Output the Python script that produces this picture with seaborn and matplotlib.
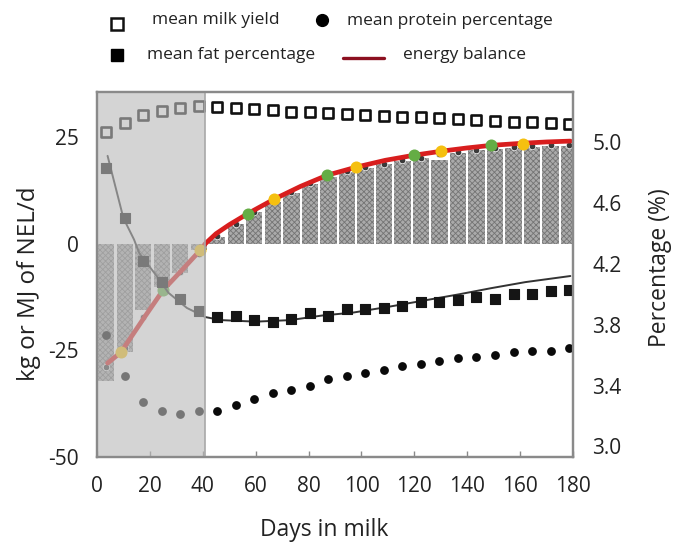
import matplotlib
matplotlib.use("Agg")
import matplotlib.pyplot as plt
from matplotlib.lines import Line2D
import pandas as pd
import seaborn as sns

# ---------------- data ----------------
week_days = [3.5, 10.5, 17.5, 24.5, 31.5, 38.5, 45.5, 52.5, 59.5, 66.5, 73.5, 80.5, 87.5,
             94.5, 101.5, 108.5, 115.5, 122.5, 129.5, 136.5, 143.5, 150.5, 157.5, 164.5,
             171.5, 178.5]
milk_yield = [26.1, 28.2, 30.1, 31.0, 31.7, 32.2, 31.9, 31.7, 31.5, 31.2, 30.8, 30.8, 30.5,
              30.3, 30.1, 29.8, 29.6, 29.6, 29.4, 29.1, 28.9, 28.7, 28.5, 28.5, 28.2, 28.0]
fat_pct = [4.83, 4.50, 4.22, 4.08, 3.97, 3.89, 3.85, 3.86, 3.83, 3.82, 3.84, 3.88, 3.86,
           3.90, 3.90, 3.91, 3.92, 3.95, 3.95, 3.96, 3.98, 3.97, 4.00, 4.00, 4.02, 4.03]
protein_pct = [3.73, 3.46, 3.29, 3.23, 3.21, 3.23, 3.23, 3.27, 3.31, 3.35, 3.37, 3.40, 3.44,
               3.46, 3.48, 3.50, 3.53, 3.54, 3.56, 3.58, 3.59, 3.60, 3.62, 3.63, 3.63, 3.65]
eb_weekly_bar = [-32.2, -25.4, -15.6, -10.2, -7.0, -1.6, 1.6, 4.5, 7.4, 9.8, 11.9, 14.0, 15.5,
                 16.8, 17.8, 18.7, 19.4, 20.0, 19.5, 21.3, 21.8, 22.2, 22.4, 22.6, 22.8, 22.9]
eb_weekly_dot = [-29.0, -24.4, -17.2, -11.3, -6.6, -2.5, 1.8, 4.6, 7.5, 10.0, 12.1, 14.1, 15.6,
                 16.9, 17.9, 18.7, 19.5, 20.1, 20.9, 21.5, 22.0, 22.4, 22.6, 22.8, 23.0, 23.0]

eb_curve_days = [4, 9, 18, 25, 32, 39, 41, 45, 50, 57, 67, 77, 87, 98, 109, 120, 131, 140,
                 149, 161, 170, 179]
eb_curve = [-28.0, -25.5, -17.2, -10.9, -6.3, -1.6, 0.0, 2.3, 4.4, 7.0, 10.4, 13.4, 16.0,
            17.9, 19.5, 20.7, 21.7, 22.4, 23.0, 23.5, 23.8, 24.0]

fat_curve_days = [4, 10, 14, 16, 23, 27, 34, 41, 47, 60, 73, 85, 97, 111, 124, 137, 149, 162, 179]
fat_curve = [4.91, 4.50, 4.36, 4.27, 4.11, 4.01, 3.91, 3.85, 3.83, 3.82, 3.83, 3.86, 3.88,
             3.92, 3.96, 4.00, 4.04, 4.08, 4.12]

yellow_days = [9, 39, 67, 98, 130, 161]
yellow_eb = [-25.5, -1.6, 10.4, 17.9, 21.6, 23.4]
green_days = [25, 57, 87, 120, 149]
green_eb = [-10.9, 7.0, 16.0, 20.7, 23.0]

transition_end = 40.7
x_ticks = [0, 20, 40, 60, 80, 100, 120, 140, 160, 180]
left_ticks = [-50, -25, 0, 25]
right_ticks = [3.0, 3.4, 3.8, 4.2, 4.6, 5.0]

weekly = pd.DataFrame({"day": week_days, "milk": milk_yield, "fat": fat_pct,
                       "protein": protein_pct, "eb_bar": eb_weekly_bar, "eb_dot": eb_weekly_dot})
eb_df = pd.DataFrame({"day": eb_curve_days, "eb": eb_curve})
fat_df = pd.DataFrame({"day": fat_curve_days, "fat": fat_curve})

# ---------------- style ----------------
sns.set_theme(style="white")
plt.rcParams["font.family"] = ["Open Sans", "DejaVu Sans"]
plt.rcParams["hatch.linewidth"] = 0.6
TXT = "#222222"
SPINE = "#8a8a8a"

fig = plt.figure(figsize=(6.8, 5.44), dpi=100)
ax = fig.add_axes([97 / 680, 87 / 544, 476 / 680, 365 / 544])
ax2 = ax.twinx()

# bars (weekly energy balance)
sns.barplot(data=weekly, x="day", y="eb_bar", native_scale=True, width=0.88,
            color="#a9a9a9", errorbar=None, ax=ax, zorder=1)
for p in ax.patches:
    p.set_hatch("xxxxxx")
    p.set_edgecolor("#747474")
    p.set_linewidth(0)
    p.set_facecolor("#aaaaaa")

sns.scatterplot(data=weekly, x="day", y="eb_dot", ax=ax, s=22, color="#3a3a3a",
                edgecolor="white", linewidth=0.5, zorder=3)
sns.lineplot(data=eb_df, x="day", y="eb", ax=ax, color="#d81e1e", lw=3.4, zorder=4)
sns.scatterplot(x=yellow_days, y=yellow_eb, ax=ax, s=75, color="#f5c010", linewidth=0, zorder=5)
sns.scatterplot(x=green_days, y=green_eb, ax=ax, s=75, color="#64ad45", linewidth=0, zorder=5)
sns.scatterplot(data=weekly, x="day", y="milk", ax=ax, marker="s", s=44,
                facecolor="white", edgecolor="#111111", linewidth=1.9, zorder=5)

# right axis: fat and protein
sns.lineplot(data=fat_df, x="day", y="fat", ax=ax2, color="#333333", lw=1.4, zorder=2)
sns.scatterplot(data=weekly, x="day", y="fat", ax=ax2, marker="s", s=55, color="#151515",
                edgecolor="#151515", linewidth=0.8, zorder=3)
sns.scatterplot(data=weekly, x="day", y="protein", ax=ax2, marker="o", s=40, color="#0a0a0a",
                linewidth=0, zorder=3)

# transition period overlay
ax2.axvspan(0, transition_end, color="#bababa", alpha=0.62, lw=0, zorder=10)
ax2.axvline(transition_end, color="#a8a8a8", lw=1.2, zorder=11)

# ---------------- axes ----------------
ax.set_xlim(0, 180)
ax.set_ylim(-50, 35.5)
ax2.set_ylim(2.93, 5.33)
ax.set_xticks(x_ticks)
ax.set_xticklabels([str(t) for t in x_ticks])
ax.set_yticks(left_ticks)
ax.set_yticklabels([str(t) for t in left_ticks])
ax2.set_yticks(right_ticks)
ax2.set_yticklabels([f"{t:.1f}" for t in right_ticks])

ax.set_xlabel("")
ax.set_ylabel("")
ax2.set_ylabel("")
ax.tick_params(axis="x", direction="in", length=4, width=1, color=SPINE, pad=14,
               labelsize=15, labelcolor=TXT, bottom=True)
ax.tick_params(axis="y", length=0, pad=13, labelsize=15, labelcolor=TXT)
ax2.tick_params(axis="y", length=0, pad=14, labelsize=15, labelcolor=TXT)
for a in (ax, ax2):
    for s in a.spines.values():
        s.set_color(SPINE)
        s.set_linewidth(1.6)
        s.set_zorder(12)

fig.text(324 / 680, 1 - 530 / 544, "Days in milk", ha="center", va="center",
         fontsize=16.5, color=TXT)
fig.text(29 / 680, 1 - 284 / 544, "kg or MJ of NEL/d", ha="center", va="center",
         rotation=90, fontsize=17.5, color=TXT)
fig.text(660 / 680, 1 - 268 / 544, "Percentage (%)", ha="center", va="center",
         rotation=90, fontsize=16.5, color=TXT)

# ---------------- legend (manual, figure coords) ----------------
def fx(px):
    return px / 680

def fy(py):
    return 1 - py / 544

fig.add_artist(Line2D([fx(117)], [fy(24)], marker="s", markersize=9, markerfacecolor="white",
                      markeredgecolor="#111111", markeredgewidth=1.8, linestyle="none"))
fig.text(fx(152), fy(20), "mean milk yield", ha="left", va="center", fontsize=12.5, color=TXT)
fig.add_artist(Line2D([fx(322)], [fy(20)], marker="o", markersize=8.5, color="#000000",
                      linestyle="none"))
fig.text(fx(347), fy(21), "mean protein percentage", ha="left", va="center", fontsize=12.5,
         color=TXT)
fig.add_artist(Line2D([fx(117)], [fy(55)], marker="s", markersize=9, color="#000000",
                      linestyle="none"))
fig.text(fx(147), fy(55), "mean fat percentage", ha="left", va="center", fontsize=12.5,
         color=TXT)
fig.add_artist(Line2D([fx(343), fx(384)], [fy(58), fy(58)], color="#8c1020", lw=2.4))
fig.text(fx(403), fy(55), "energy balance", ha="left", va="center", fontsize=12.5, color=TXT)

fig.savefig("out.png", dpi=100)
